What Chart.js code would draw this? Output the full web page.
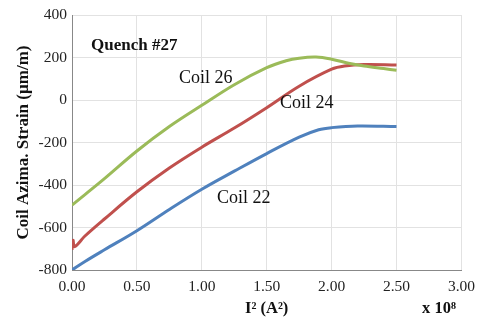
<!DOCTYPE html>
<html>
<head>
<meta charset="utf-8">
<script src="https://cdn.jsdelivr.net/npm/chart.js@4"></script>
<style>
	body { margin: 0; background: #fff; }
	#wrap { position: relative; width: 483px; height: 321px; font-family: "Liberation Serif", serif; }
	.lbl { position: absolute; white-space: nowrap; color: #111; line-height: 1; }
	.b { font-weight: bold; }
</style>
</head>
<body>
<div id="wrap">
	<canvas id="lineChart" width="483" height="321"></canvas>
	<div class="lbl b" style="left:91px; top:36px; font-size:17px;">Quench #27</div>
	<div class="lbl" style="left:179px; top:68px; font-size:18px;">Coil 26</div>
	<div class="lbl" style="left:280px; top:93px; font-size:18px;">Coil 24</div>
	<div class="lbl" style="left:217px; top:188px; font-size:18px;">Coil 22</div>
	<div class="lbl b" style="left:245px; top:300px; font-size:16.5px;">I² (A²)</div>
	<div class="lbl b" style="left:422px; top:300px; font-size:16.5px;">x 10⁸</div>
</div>
<script>
// valeurs (x en 1e8 A², y en µm/m)
var xCoil26 = [0, 0.1, 0.25, 0.5, 0.75, 1.0, 1.25, 1.5, 1.65, 1.75, 1.88, 2.0, 2.14, 2.25, 2.4, 2.5];
var yCoil26 = [-495, -445, -370, -240, -125, -25, 72, 152, 185, 197, 202, 192, 172, 160, 148, 140];

var xCoil24 = [0, 0.008, 0.02, 0.1, 0.25, 0.5, 0.75, 1.0, 1.25, 1.5, 1.75, 2.0, 2.1, 2.25, 2.5];
var yCoil24 = [-705, -660, -690, -640, -560, -432, -320, -222, -132, -36, 65, 145, 160, 167, 165];

var xCoil22 = [0, 0.1, 0.25, 0.5, 0.75, 1.0, 1.25, 1.5, 1.75, 1.9, 2.0, 2.2, 2.5];
var yCoil22 = [-800, -760, -705, -615, -515, -420, -335, -252, -175, -140, -130, -122, -125];

var xTicks = [0, 0.5, 1.0, 1.5, 2.0, 2.5, 3.0];
var yTicks = [-800, -600, -400, -200, 0, 200, 400];

function toPoints(xs, ys) {
	var pts = new Array();
	for (var k=0; k<xs.length; k++) {
		pts.push({x: xs[k], y: ys[k]});
	}
	return pts;
}

var data = {
	datasets: [
		{ label: "Coil 26", data: toPoints(xCoil26, yCoil26), borderColor: "#9BBB59", borderWidth: 3 },
		{ label: "Coil 24", data: toPoints(xCoil24, yCoil24), borderColor: "#C0504D", borderWidth: 3 },
		{ label: "Coil 22", data: toPoints(xCoil22, yCoil22), borderColor: "#4F81BD", borderWidth: 3 }
	]
};

var tickFont = { family: "Liberation Serif", size: 15.5 };

var options = {
	responsive: false,
	animation: false,
	layout: { padding: { left: 13, top: 15, right: 20, bottom: 0 } },
	plugins: { legend: { display: false }, tooltip: { enabled: false } },
	elements: { point: { radius: 0 }, line: { tension: 0.35, fill: false } },
	scales: {
		x: {
			type: 'linear', min: 0, max: 3,
			afterBuildTicks: function(scale) { scale.ticks = xTicks.map(function(v) { return {value: v}; }); },
			ticks: { color: "#222", font: tickFont, padding: 8, maxRotation: 0,
				callback: function(v) { return Number(v).toFixed(2); } },
			grid: { color: "#e2e2e2", drawTicks: false },
			border: { color: "#888", width: 1 },
			afterFit: function(scale) { scale.height = 51; }
		},
		y: {
			type: 'linear', min: -800, max: 400,
			afterBuildTicks: function(scale) { scale.ticks = yTicks.map(function(v) { return {value: v}; }); },
			ticks: { color: "#222", font: tickFont, padding: 5 },
			grid: { color: "#e2e2e2", drawTicks: false },
			border: { color: "#888", width: 1 },
			title: { display: true, text: "Coil Azima. Strain (µm/m)", color: "#111",
				font: { family: "Liberation Serif", size: 17, weight: "bold" }, padding: 0 },
			afterFit: function(scale) { scale.width = 59; }
		}
	}
};

var ctx = document.getElementById('lineChart');
var myLineChart = new Chart(ctx, { type: 'line', data: data, options: options });
</script>
</body>
</html>
